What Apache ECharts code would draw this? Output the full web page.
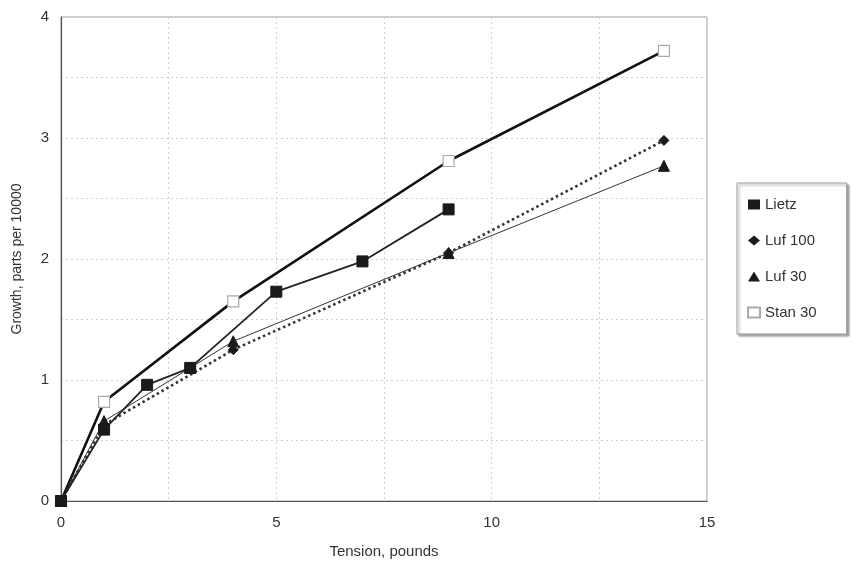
<!DOCTYPE html>
<html><head><meta charset="utf-8">
<script src="https://cdn.jsdelivr.net/npm/echarts@6/dist/echarts.min.js"></script>
<style>html,body{margin:0;padding:0;background:#fff}#c{width:853px;height:562px}</style>
</head><body><div id="c"></div>
<script>
const seriesNames = ['Lietz', 'Luf 100', 'Luf 30', 'Stan 30'];
const lietz  = [[0,0],[1,0.59],[2,0.96],[3,1.10],[5,1.73],[7,1.98],[9,2.41]];
const luf100 = [[0,0],[1,0.63],[4,1.25],[9,2.05],[14,2.98]];
const luf30  = [[0,0],[1,0.66],[3,1.10],[4,1.32],[9,2.05],[14,2.77]];
const stan30 = [[0,0],[1,0.82],[4,1.65],[9,2.81],[14,3.72]];
const xTicks = [0, 5, 10, 15];
const yTicks = [0, 1, 2, 3, 4];

const chart = echarts.init(document.getElementById('c'));
const font = 'Liberation Sans, Arial, sans-serif';
chart.setOption({
  animation: false,
  backgroundColor: '#fff',
  grid: { left: 61, right: 146, top: 17, bottom: 61, outerBoundsMode: 'none', containLabel: false,
    show: true, borderColor: '#a0a0a0', borderWidth: 1 },
  xAxis: {
    type: 'value', min: 0, max: 15, interval: 2.5,
    name: 'Tension, pounds', nameLocation: 'middle', nameGap: 43,
    nameTextStyle: { fontFamily: font, fontSize: 15, color: '#333' },
    axisLine: { lineStyle: { color: '#555', width: 1.2 } },
    axisTick: { show: false },
    axisLabel: { fontFamily: font, fontSize: 15, color: '#333', margin: 14,
      formatter: v => xTicks.includes(v) ? String(v) : '' },
    splitLine: { show: true, lineStyle: { color: '#d0d0d0', type: [2, 3], width: 1 } }
  },
  yAxis: {
    type: 'value', min: 0, max: 4, interval: 0.5,
    name: 'Growth, parts per 10000', nameLocation: 'middle', nameGap: 37,
    nameTextStyle: { fontFamily: font, fontSize: 14, color: '#333' },
    axisLine: { show: true, lineStyle: { color: '#555', width: 1.2 } },
    axisTick: { show: false },
    axisLabel: { fontFamily: font, fontSize: 15, color: '#333', margin: 12,
      formatter: v => yTicks.includes(v) ? String(v) : '' },
    splitLine: { show: true, lineStyle: { color: '#d0d0d0', type: [2, 3], width: 1 } }
  },
  legend: {
    orient: 'vertical', left: 737, top: 183, width: 113,
    padding: [14, 30, 14, 10], itemGap: 21,
    backgroundColor: '#fff', borderColor: '#999', borderWidth: 1,
    shadowColor: 'rgba(0,0,0,0.35)', shadowOffsetX: 2, shadowOffsetY: 2, shadowBlur: 2,
    itemWidth: 12, itemHeight: 10,
    textStyle: { fontFamily: font, fontSize: 15, color: '#333' },
    data: [
      { name: 'Lietz', icon: 'rect' },
      { name: 'Luf 100', icon: 'diamond' },
      { name: 'Luf 30', icon: 'triangle' },
      { name: 'Stan 30', icon: 'rect' }
    ]
  },
  series: [
    { name: seriesNames[0], type: 'line', data: lietz, symbol: 'rect', symbolSize: 11,
      lineStyle: { color: '#222', width: 1.8 }, itemStyle: { color: '#1a1a1a', borderColor: '#1a1a1a' }, z: 4 },
    { name: seriesNames[1], type: 'line', data: luf100, symbol: 'diamond', symbolSize: 10,
      lineStyle: { color: '#333', width: 2.6, type: [2.5, 3] }, itemStyle: { color: '#1a1a1a', borderColor: '#1a1a1a' }, z: 3 },
    { name: seriesNames[2], type: 'line', data: luf30, symbol: 'triangle', symbolSize: 11,
      lineStyle: { color: '#333', width: 1 }, itemStyle: { color: '#1a1a1a', borderColor: '#1a1a1a' }, z: 3 },
    { name: seriesNames[3], type: 'line', data: stan30, symbol: 'rect', symbolSize: 11,
      lineStyle: { color: '#111', width: 2.6 }, itemStyle: { color: '#fff', borderColor: '#aaa', borderWidth: 1.2 }, z: 2 }
  ]
});
</script></body></html>
